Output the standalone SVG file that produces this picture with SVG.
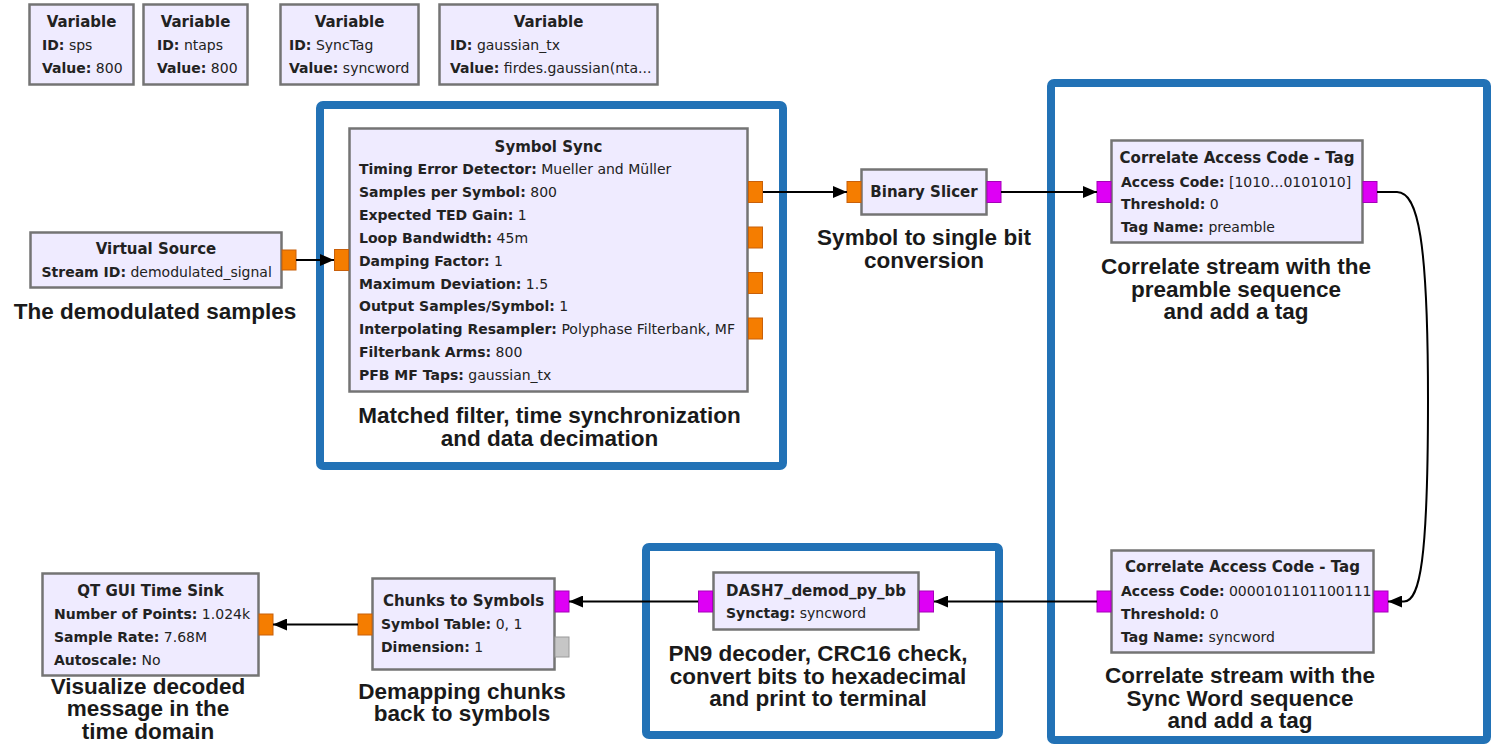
<svg xmlns="http://www.w3.org/2000/svg" width="1492" height="744" viewBox="0 0 1492 744">
  <style>
    .blk { fill: #efebff; stroke: #747474; stroke-width: 2.5; }
    .t { font-family: "DejaVu Sans", "Noto Sans", sans-serif; font-size: 14px; fill: #222; }
    .ti { font-weight: bold; text-anchor: middle; font-size: 15px; }
    .b { font-weight: bold; }
    .note { font-family: "Liberation Sans", Arial, sans-serif; font-weight: bold; font-size: 22.5px; fill: #1a1a1a; text-anchor: middle; }
    .p-or { fill: #f57d00; stroke: #c8600a; stroke-width: 1; }
    .p-mg { fill: #de00f5; stroke: #a400b8; stroke-width: 1; }
    .p-gy { fill: #c6c6c6; stroke: #9a9a9a; stroke-width: 1; }
    .frame { fill: none; stroke: #2272b6; stroke-width: 8; }
    .wire { fill: none; stroke: #000; stroke-width: 2; }
  </style>
  <defs>
    <marker id="arrow" markerUnits="userSpaceOnUse" markerWidth="14" markerHeight="12" refX="14" refY="6" orient="auto">
      <path d="M0,0 L14,6 L0,12 z" fill="#000"/>
    </marker>
  </defs>

  <rect width="1492" height="744" fill="#fff"/>

  <!-- highlight frames -->
  <g id="frames">
    <rect class="frame" x="320" y="105" width="463" height="361" rx="3"/>
    <rect class="frame" x="1051" y="83" width="436" height="657" rx="3"/>
    <rect class="frame" x="646" y="547" width="353" height="188" rx="3"/>
  </g>

  <!-- variables -->
  <g id="var_sps">
    <rect class="blk" x="29.5" y="4.5" width="104" height="80"/>
    <text class="t ti" x="81.5" y="27">Variable</text>
    <text class="t" x="42" y="50"><tspan class="b">ID:</tspan> sps</text>
    <text class="t" x="42" y="73"><tspan class="b">Value:</tspan> 800</text>
  </g>
  <g id="var_ntaps">
    <rect class="blk" x="143.5" y="4.5" width="104" height="80"/>
    <text class="t ti" x="195.5" y="27">Variable</text>
    <text class="t" x="157" y="50"><tspan class="b">ID:</tspan> ntaps</text>
    <text class="t" x="157" y="73"><tspan class="b">Value:</tspan> 800</text>
  </g>
  <g id="var_synctag">
    <rect class="blk" x="280.5" y="4.5" width="138" height="80"/>
    <text class="t ti" x="349.5" y="27">Variable</text>
    <text class="t" x="289" y="50"><tspan class="b">ID:</tspan> SyncTag</text>
    <text class="t" x="289" y="73"><tspan class="b">Value:</tspan> syncword</text>
  </g>
  <g id="var_gaussian_tx">
    <rect class="blk" x="439.5" y="4.5" width="218" height="80"/>
    <text class="t ti" x="548.5" y="27">Variable</text>
    <text class="t" x="450" y="50"><tspan class="b">ID:</tspan> gaussian_tx</text>
    <text class="t" x="450" y="73"><tspan class="b">Value:</tspan> firdes.gaussian(nta...</text>
  </g>

  <!-- Virtual Source -->
  <g id="virtual_source">
    <rect class="blk" x="30.5" y="232.5" width="251" height="55"/>
    <text class="t ti" x="156" y="254">Virtual Source</text>
    <text class="t" x="41.5" y="276.5"><tspan class="b">Stream ID:</tspan> demodulated_signal</text>
    <rect class="p-or" x="282" y="250" width="14" height="20"/>
    <text class="note" x="155" y="319">The demodulated samples</text>
  </g>

  <!-- Symbol Sync -->
  <g id="symbol_sync">
    <rect class="blk" x="349.5" y="128.5" width="398" height="263"/>
    <text class="t ti" x="548.5" y="152">Symbol Sync</text>
    <text class="t" x="359" y="174"><tspan class="b">Timing Error Detector:</tspan> Mueller and Müller</text>
    <text class="t" x="359" y="197"><tspan class="b">Samples per Symbol:</tspan> 800</text>
    <text class="t" x="359" y="220"><tspan class="b">Expected TED Gain:</tspan> 1</text>
    <text class="t" x="359" y="243"><tspan class="b">Loop Bandwidth:</tspan> 45m</text>
    <text class="t" x="359" y="265.5"><tspan class="b">Damping Factor:</tspan> 1</text>
    <text class="t" x="359" y="288.5"><tspan class="b">Maximum Deviation:</tspan> 1.5</text>
    <text class="t" x="359" y="311"><tspan class="b">Output Samples/Symbol:</tspan> 1</text>
    <text class="t" x="359" y="334"><tspan class="b">Interpolating Resampler:</tspan> Polyphase Filterbank, MF</text>
    <text class="t" x="359" y="356.5"><tspan class="b">Filterbank Arms:</tspan> 800</text>
    <text class="t" x="359" y="379.5"><tspan class="b">PFB MF Taps:</tspan> gaussian_tx</text>
    <rect class="p-or" x="334.5" y="249.5" width="14" height="21"/>
    <rect class="p-or" x="748.5" y="181.5" width="14" height="21"/>
    <rect class="p-or" x="748.5" y="227" width="14" height="21"/>
    <rect class="p-or" x="748.5" y="272.5" width="14" height="21"/>
    <rect class="p-or" x="748.5" y="318" width="14" height="21"/>
    <text class="note" x="549.5" y="423">Matched filter, time synchronization</text>
    <text class="note" x="549.5" y="445.5">and data decimation</text>
  </g>

  <!-- Binary Slicer -->
  <g id="binary_slicer">
    <rect class="blk" x="861.5" y="169.5" width="125" height="45"/>
    <text class="t ti" x="924" y="197">Binary Slicer</text>
    <rect class="p-or" x="847" y="181.5" width="14" height="21"/>
    <rect class="p-mg" x="987" y="181.5" width="14" height="21"/>
    <text class="note" x="924" y="245">Symbol to single bit</text>
    <text class="note" x="924" y="267.5">conversion</text>
  </g>

  <!-- Correlate Access Code (preamble) -->
  <g id="correlate_preamble">
    <rect class="blk" x="1111.5" y="140.5" width="251" height="102"/>
    <text class="t ti" x="1237" y="163">Correlate Access Code - Tag</text>
    <text class="t" x="1121" y="186.5"><tspan class="b">Access Code:</tspan> [1010...0101010]</text>
    <text class="t" x="1121" y="209"><tspan class="b">Threshold:</tspan> 0</text>
    <text class="t" x="1121" y="232"><tspan class="b">Tag Name:</tspan> preamble</text>
    <rect class="p-mg" x="1097" y="181.5" width="14" height="21"/>
    <rect class="p-mg" x="1363" y="181.5" width="14" height="21"/>
    <text class="note" x="1236" y="274">Correlate stream with the</text>
    <text class="note" x="1236" y="296.5">preamble sequence</text>
    <text class="note" x="1236" y="319">and add a tag</text>
  </g>

  <!-- Correlate Access Code (sync word) -->
  <g id="correlate_syncword">
    <rect class="blk" x="1111.5" y="550.5" width="262" height="102"/>
    <text class="t ti" x="1242.5" y="572">Correlate Access Code - Tag</text>
    <text class="t" x="1121" y="596"><tspan class="b">Access Code:</tspan> 0000101101100111</text>
    <text class="t" x="1121" y="618.5"><tspan class="b">Threshold:</tspan> 0</text>
    <text class="t" x="1121" y="641.5"><tspan class="b">Tag Name:</tspan> syncword</text>
    <rect class="p-mg" x="1097" y="591" width="14" height="21"/>
    <rect class="p-mg" x="1374" y="591" width="14" height="21"/>
    <text class="note" x="1240" y="683">Correlate stream with the</text>
    <text class="note" x="1240" y="705.5">Sync Word sequence</text>
    <text class="note" x="1240" y="728">and add a tag</text>
  </g>

  <!-- DASH7 demodulator -->
  <g id="dash7_demod">
    <rect class="blk" x="713.5" y="572.5" width="205" height="57"/>
    <text class="t ti" x="816" y="596">DASH7_demod_py_bb</text>
    <text class="t" x="726" y="618"><tspan class="b">Synctag:</tspan> syncword</text>
    <rect class="p-mg" x="698.5" y="591" width="14" height="21"/>
    <rect class="p-mg" x="919.5" y="591" width="14" height="21"/>
    <text class="note" x="818" y="661">PN9 decoder, CRC16 check,</text>
    <text class="note" x="818" y="683.5">convert bits to hexadecimal</text>
    <text class="note" x="818" y="706">and print to terminal</text>
  </g>

  <!-- Chunks to Symbols -->
  <g id="chunks_to_symbols">
    <rect class="blk" x="372.5" y="578.5" width="182" height="91"/>
    <text class="t ti" x="463.5" y="606">Chunks to Symbols</text>
    <text class="t" x="381" y="629"><tspan class="b">Symbol Table:</tspan> 0, 1</text>
    <text class="t" x="381" y="652"><tspan class="b">Dimension:</tspan> 1</text>
    <rect class="p-or" x="358" y="614" width="14" height="21"/>
    <rect class="p-mg" x="555" y="591" width="14" height="21"/>
    <rect class="p-gy" x="555" y="637" width="14" height="20"/>
    <text class="note" x="462" y="698.5">Demapping chunks</text>
    <text class="note" x="462" y="721">back to symbols</text>
  </g>

  <!-- QT GUI Time Sink -->
  <g id="qt_time_sink">
    <rect class="blk" x="42.5" y="573.5" width="216" height="102"/>
    <text class="t ti" x="150.5" y="596">QT GUI Time Sink</text>
    <text class="t" x="54" y="618.5"><tspan class="b">Number of Points:</tspan> 1.024k</text>
    <text class="t" x="54" y="641.5"><tspan class="b">Sample Rate:</tspan> 7.68M</text>
    <text class="t" x="54" y="664.5"><tspan class="b">Autoscale:</tspan> No</text>
    <rect class="p-or" x="259" y="614" width="14" height="21"/>
    <text class="note" x="148" y="693.5">Visualize decoded</text>
    <text class="note" x="148" y="716">message in the</text>
    <text class="note" x="148" y="738.5">time domain</text>
  </g>

  <!-- connections -->
  <g id="connections">
    <path class="wire" d="M296 260 H334" marker-end="url(#arrow)"/>
    <path class="wire" d="M763 192 H847" marker-end="url(#arrow)"/>
    <path class="wire" d="M1001 192 H1097" marker-end="url(#arrow)"/>
    <path class="wire" d="M1377 192 H1397 C1418 192 1428 240 1428 400 C1428 560 1420 601.5 1404 601.5 L1388 601.5" marker-end="url(#arrow)"/>
    <path class="wire" d="M1097 601.5 H934" marker-end="url(#arrow)"/>
    <path class="wire" d="M698 601.5 H569" marker-end="url(#arrow)"/>
    <path class="wire" d="M358 624.5 H273" marker-end="url(#arrow)"/>
  </g>
</svg>
